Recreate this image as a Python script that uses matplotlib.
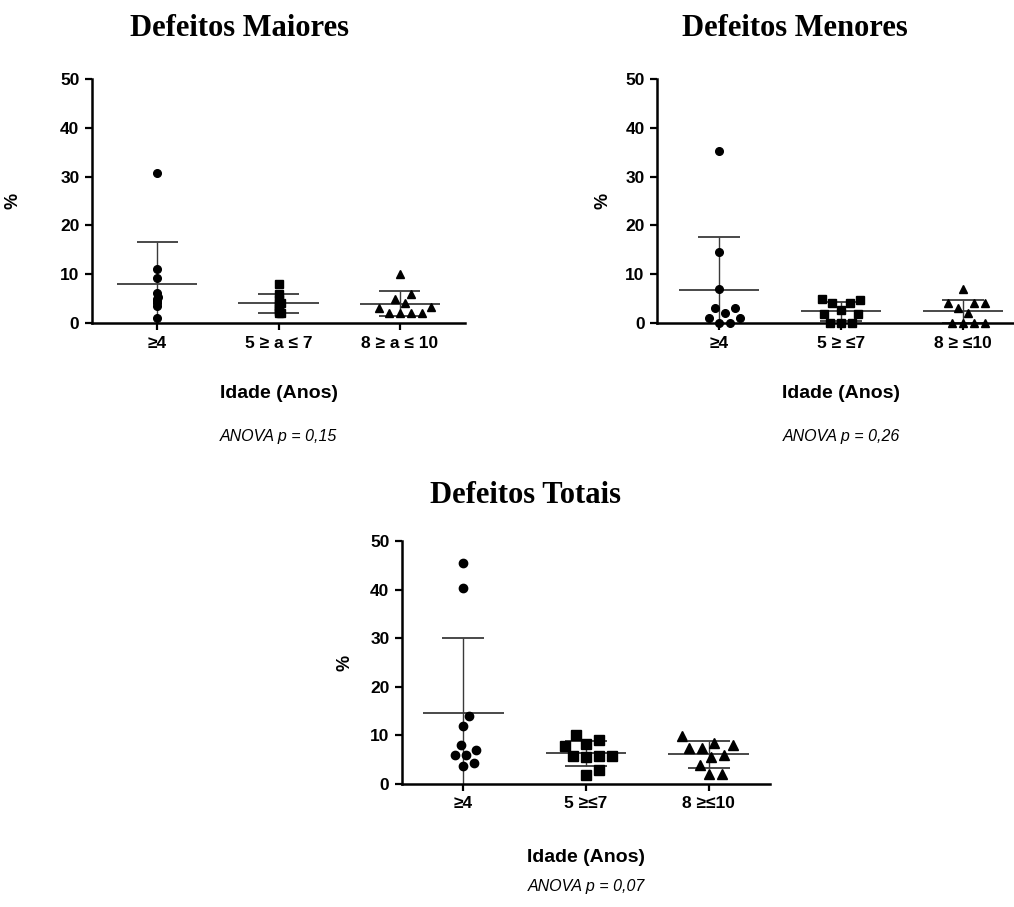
import matplotlib
matplotlib.use("Agg")
import matplotlib.pyplot as plt
import numpy as np

# ---- data ----
titles = ["Defeitos Maiores", "Defeitos Menores", "Defeitos Totais"]
anova = ["ANOVA p = 0,15", "ANOVA p = 0,26", "ANOVA p = 0,07"]
tick_labels = [
    ["≥4", "5 ≥ a ≤ 7", "8 ≥ a ≤ 10"],
    ["≥4", "5 ≥ ≤7", "8 ≥ ≤10"],
    ["≥4", "5 ≥≤7", "8 ≥≤10"],
]

maiores_4 = [30.7, 11.1, 9.2, 6.2, 5.4, 5.0, 4.5, 4.0, 3.4, 1.0]
maiores_5_7 = [8.0, 6.0, 5.0, 4.0, 4.0, 3.5, 3.0, 2.5, 2.0, 2.0]
maiores_8_10 = [10.0, 6.0, 5.0, 4.0, 3.0, 3.2, 2.0, 2.0, 2.0, 2.0]

menores_4 = [35.3, 14.5, 7.0, 3.0, 3.0, 2.0, 1.0, 1.0, 0.0, 0.0]
menores_5_7 = [5.0, 4.7, 4.0, 4.0, 2.6, 1.9, 1.9, 0.0, 0.0, 0.0]
menores_8_10 = [7.0, 4.0, 4.0, 4.0, 3.0, 2.0, 0.0, 0.0, 0.0, 0.0]

totais_4 = [45.5, 40.4, 14.0, 12.0, 8.0, 7.0, 6.0, 6.0, 4.3, 3.8]
totais_5_7 = [10.0, 9.0, 8.3, 7.9, 5.8, 5.8, 5.8, 5.5, 2.9, 1.9]
totais_8_10 = [9.8, 8.5, 8.0, 7.5, 7.5, 6.0, 5.5, 4.0, 2.0, 2.0]

panels = [
    [maiores_4, maiores_5_7, maiores_8_10],
    [menores_4, menores_5_7, menores_8_10],
    [totais_4, totais_5_7, totais_8_10],
]

markers = ["o", "s", "^"]
msizes = [[5.5, 5.5, 6], [5.5, 5.5, 6], [6, 7, 7.5]]
# swarm spacing (pixels) per group; the first panel stacks its points
swarm_px = [[2, 2, 11], [11, 11, 11], [11, 13, 13]]

W, H = 1014, 907
# axes boxes in pixels: left, top, right, bottom
boxes = [(92, 79, 465, 323), (657, 79, 1014, 323), (402, 541, 770, 784)]
xlims = [(-0.537, 2.537), (-0.51, 2.42), (-0.5, 2.5)]
title_pos = [(240, 28), (795, 28), (525, 495)]
idade_y = [393, 393, 858]
anova_y = [436, 436, 887]
ylabel_x = [22, 611, 354]

sans = ["Liberation Sans", "DejaVu Sans"]
plt.rcParams["font.family"] = sans


def swarm(values, px_per_y, px_per_x, diam):
    """Simple beeswarm: returns x offsets in category units."""
    order = np.argsort(values)
    placed = []
    offs = np.zeros(len(values))
    cands = [0.0]
    for k in range(1, 200):
        cands += [k * 0.5, -k * 0.5]
    for i in order:
        y = values[i] * px_per_y
        for c in cands:
            ok = all((c - px) ** 2 + (y - py) ** 2 >= diam ** 2 for px, py in placed)
            if ok:
                placed.append((c, y))
                offs[i] = c / px_per_x
                break
    return offs


fig = plt.figure(figsize=(W / 100, H / 100), dpi=100)

for p, groups in enumerate(panels):
    l, t, r, b = boxes[p]
    ax = fig.add_axes([l / W, 1 - b / H, (r - l) / W, (b - t) / H])
    ax.set_xlim(*xlims[p])
    ax.set_ylim(0, 50)
    px_per_x = (r - l) / (xlims[p][1] - xlims[p][0])
    px_per_y = (b - t) / 50.0
    xc = (1 - xlims[p][0]) / (xlims[p][1] - xlims[p][0])

    for g, vals in enumerate(groups):
        vals = np.array(vals)
        mean = vals.mean()
        sd = vals.std(ddof=1)
        # mean line and SD bar
        ax.hlines(mean, g - 0.33, g + 0.33, color="#3a3a3a", lw=1.3, zorder=2)
        ax.vlines(g, mean - sd, mean + sd, color="#3a3a3a", lw=1.0, zorder=2)
        for yy in (mean - sd, mean + sd):
            ax.hlines(yy, g - 0.17, g + 0.17, color="#3a3a3a", lw=1.3, zorder=2)
        offs = swarm(vals, px_per_y, px_per_x, swarm_px[p][g])
        ax.plot(g + offs, vals, linestyle="none", marker=markers[g],
                markersize=msizes[p][g], color="black", clip_on=False, zorder=3)

    for side in ("top", "right"):
        ax.spines[side].set_visible(False)
    for side in ("left", "bottom"):
        ax.spines[side].set_linewidth(1.8)
    ax.set_yticks([0, 10, 20, 30, 40, 50])
    ax.set_xticks([0, 1, 2])
    ax.set_xticklabels(tick_labels[p])
    ax.tick_params(axis="both", direction="out", width=1.6, length=5,
                   labelsize=12.5, pad=4)
    for lab in ax.get_xticklabels() + ax.get_yticklabels():
        lab.set_fontweight("bold")

    ax.set_ylabel("%", fontsize=13, fontweight="bold")
    ax.yaxis.set_label_coords((ylabel_x[p] - l) / (r - l), 0.5)

    ax.set_xlabel("Idade (Anos)", fontsize=14, fontweight="bold", va="center")
    ax.xaxis.set_label_coords(xc, (b - idade_y[p]) / (b - t))
    ax.text(xc, (b - anova_y[p]) / (b - t), anova[p], transform=ax.transAxes,
            ha="center", va="center", fontsize=11.5, fontstyle="italic")

    tx, ty = title_pos[p]
    fig.text(tx / W, 1 - ty / H, titles[p], ha="center", va="center",
             fontsize=22, fontweight="bold",
             family=["Liberation Serif", "DejaVu Serif"])

fig.savefig("out.png", dpi=100)
